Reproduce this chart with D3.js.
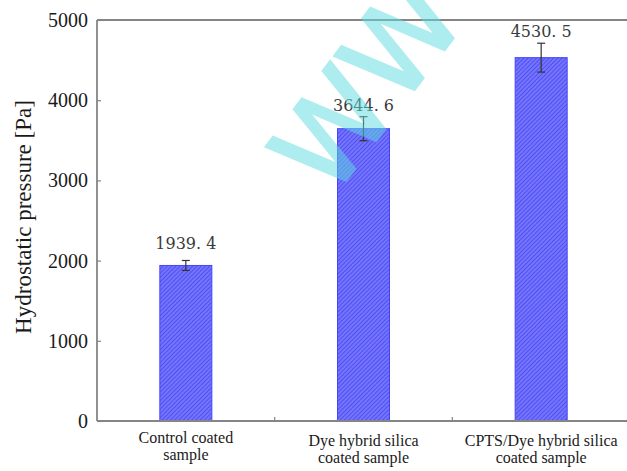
<!DOCTYPE html>
<html>
<head>
<meta charset="utf-8">
<script src="https://cdn.jsdelivr.net/npm/d3@7"></script>
<style>
  html, body { margin: 0; padding: 0; background: #fff; }
  svg { display: block; }
</style>
</head>
<body>
<svg id="chart" width="627" height="471"></svg>
<script>
// Hydrostatic pressure per coating
const categories = ["Control coated sample", "Dye hybrid silica coated sample", "CPTS/Dye hybrid silica coated sample"];
const categoryLines = [["Control coated", "sample"], ["Dye hybrid silica", "coated sample"], ["CPTS/Dye hybrid silica", "coated sample"]];
const pressure = [1939.4, 3644.6, 4530.5];
const pressureError = [62, 150, 180];
const valueLabels = ["1939. 4", "3644. 6", "4530. 5"];
const yTicks = [0, 1000, 2000, 3000, 4000, 5000];

const svg = d3.select("#chart");
const margin = { left: 97, top: 20, bottom: 421, right: 630 };

const x = d3.scaleBand().domain(categories).range([margin.left, margin.right]).paddingInner(0).paddingOuter(0);
const y = d3.scaleLinear().domain([0, 5000]).range([margin.bottom, margin.top]);
const cx = d => x(d) + x.bandwidth() / 2;

// hatch fill for the bars
const defs = svg.append("defs");
const pat = defs.append("pattern")
  .attr("id", "hatch").attr("patternUnits", "userSpaceOnUse")
  .attr("width", 3).attr("height", 3)
  .attr("patternTransform", "rotate(45)");
pat.append("rect").attr("width", 3).attr("height", 3).attr("fill", "#7474ff");
pat.append("rect").attr("width", 1).attr("height", 3).attr("fill", "#5050ee");

const barW = 52;
const axisColor = "#858585";
const serif = "'Liberation Serif', 'Times New Roman', serif";

// bars
svg.append("g").selectAll("rect").data(pressure).join("rect")
  .attr("x", (d, i) => cx(categories[i]) - barW / 2)
  .attr("y", d => y(d))
  .attr("width", barW)
  .attr("height", d => y(0) - y(d))
  .attr("fill", "url(#hatch)")
  .attr("stroke", "#4444ff").attr("stroke-width", 1);

// error bars
const eg = svg.append("g").attr("stroke", "#333").attr("stroke-width", 1.2).attr("fill", "none");
pressure.forEach((v, i) => {
  const c = cx(categories[i]);
  const e = pressureError[i];
  eg.append("line").attr("x1", c).attr("x2", c).attr("y1", y(v + e)).attr("y2", y(v - e));
  eg.append("line").attr("x1", c - 4).attr("x2", c + 4).attr("y1", y(v + e)).attr("y2", y(v + e));
  eg.append("line").attr("x1", c - 4).attr("x2", c + 4).attr("y1", y(v - e)).attr("y2", y(v - e));
});

// value labels above each bar, clear of the error cap
svg.append("g").selectAll("text").data(pressure).join("text")
  .attr("x", (d, i) => cx(categories[i]))
  .attr("y", (d, i) => Math.min(y(d) - 16, y(d + pressureError[i]) - 6))
  .attr("text-anchor", "middle")
  .attr("font-family", "'DejaVu Serif', serif")
  .attr("font-size", 16)
  .attr("fill", "#3a3a3a")
  .text((d, i) => valueLabels[i]);

// y axis
const yAxis = d3.axisLeft(y).tickValues(yTicks).tickSize(-4).tickPadding(9).tickFormat(d3.format("d"));
const yg = svg.append("g").attr("transform", `translate(${margin.left},0)`).call(yAxis);
yg.select(".domain").attr("stroke", axisColor).attr("stroke-width", 1.8).attr("d", `M0,${margin.top}V${margin.bottom}`);
yg.selectAll(".tick line").attr("stroke", axisColor).attr("stroke-width", 1.2);
yg.selectAll(".tick text")
  .attr("font-family", serif)
  .attr("font-size", 20).attr("fill", "#1a1a1a");

// x axis
const xg = svg.append("g").attr("transform", `translate(0,${margin.bottom})`)
  .call(d3.axisBottom(x).tickSize(0).tickFormat(""));
xg.select(".domain").attr("stroke", axisColor).attr("stroke-width", 1.8).attr("d", `M${margin.left},0H627`);

// category dividers on the x axis
svg.append("g").selectAll("line").data(categories.slice(1)).join("line")
  .attr("x1", d => x(d)).attr("x2", d => x(d))
  .attr("y1", margin.bottom).attr("y2", margin.bottom - 4)
  .attr("stroke", axisColor).attr("stroke-width", 1.2);

// top frame
svg.append("line").attr("x1", margin.left).attr("x2", 627)
  .attr("y1", margin.top).attr("y2", margin.top)
  .attr("stroke", axisColor).attr("stroke-width", 1.8);

// category labels, two lines each
const lg = svg.append("g")
  .attr("font-family", serif)
  .attr("font-size", 16).attr("fill", "#1a1a1a").attr("text-anchor", "middle");
categoryLines.forEach((lines, i) => {
  const base = i === 0 ? 443 : 446;
  lines.forEach((t, j) => {
    lg.append("text").attr("x", cx(categories[i])).attr("y", base + j * 17).text(t);
  });
});

// y axis title
svg.append("text")
  .attr("transform", "translate(31,217) rotate(-90)")
  .attr("text-anchor", "middle")
  .attr("font-family", serif)
  .attr("font-size", 23).attr("fill", "#1a1a1a")
  .text("Hydrostatic pressure [Pa]");

// site mark
svg.append("text")
  .attr("transform", "translate(331,200) rotate(-53)")
  .attr("font-family", "'DejaVu Sans', sans-serif")
  .attr("font-size", 115)
  .attr("fill", "#5fdde0").attr("stroke", "#5fdde0").attr("stroke-width", 3)
  .attr("stroke-linejoin", "miter")
  .attr("opacity", 0.5)
  .text("WW");
</script>
</body>
</html>
